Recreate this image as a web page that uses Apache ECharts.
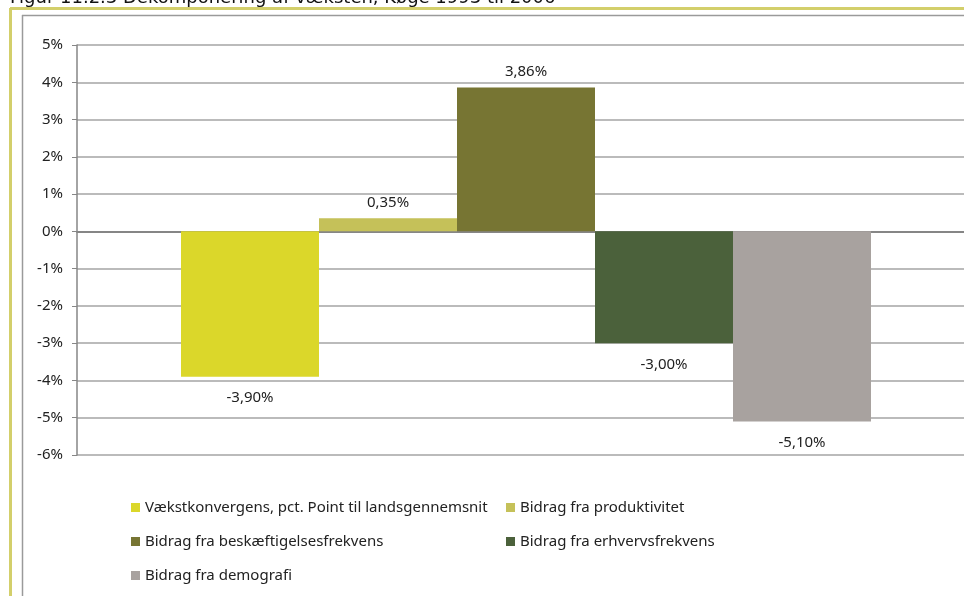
<!DOCTYPE html>
<html>
<head>
<meta charset="utf-8">
<script src="https://cdn.jsdelivr.net/npm/echarts@6/dist/echarts.min.js"></script>
<style>
  html, body { margin: 0; padding: 0; background: #ffffff; }
  #chart { width: 964px; height: 596px; }
</style>
</head>
<body>
<div id="chart"></div>
<script>
// Decomposition of growth, contributions in percent
const titleText = 'Figur 11.2.3 Dekomponering af væksten, Køge 1993 til 2006';
const categories = [''];
const seriesNames = [
  'Vækstkonvergens, pct. Point til landsgennemsnit',
  'Bidrag fra produktivitet',
  'Bidrag fra beskæftigelsesfrekvens',
  'Bidrag fra erhvervsfrekvens',
  'Bidrag fra demografi'
];
const seriesValues = [-3.90, 0.35, 3.86, -3.00, -5.10];
const seriesColors = ['#dbd72a', '#c5c159', '#777533', '#4b613b', '#a8a29f'];
const yTicks = { min: -6, max: 5, interval: 1 };

const FONT = '"Noto Sans", "Open Sans", sans-serif';
const FS = 15;

const fmt = v => v.toFixed(2).replace('.', ',') + '%';

const series = seriesNames.map((name, i) => ({
  name: name,
  type: 'bar',
  data: [seriesValues[i]],
  barGap: '0%',
  barWidth: 138,
  itemStyle: { color: seriesColors[i] },
  label: {
    show: true,
    position: seriesValues[i] >= 0 ? 'top' : 'bottom',
    distance: seriesValues[i] >= 0 ? 8 : 14,
    formatter: p => fmt(p.value),
    color: '#222',
    fontFamily: FONT,
    fontSize: FS
  }
}));

const chart = echarts.init(document.getElementById('chart'), null, { renderer: 'canvas' });
chart.setOption({
  animation: false,
  backgroundColor: '#ffffff',
  grid: {
    left: 77, top: 45, width: 898, height: 410,
    containLabel: false,
    outerBoundsMode: 'none'
  },
  xAxis: {
    type: 'category',
    data: categories,
    axisLine: { show: true, onZero: true, lineStyle: { color: '#868686', width: 2 } },
    axisTick: { show: false },
    axisLabel: { show: false },
    splitLine: { show: false }
  },
  yAxis: {
    type: 'value',
    min: yTicks.min,
    max: yTicks.max,
    interval: yTicks.interval,
    axisLine: { show: true, lineStyle: { color: '#868686', width: 1.5 } },
    axisTick: { show: true, length: 5, lineStyle: { color: '#868686' } },
    axisLabel: {
      margin: 14,
      formatter: v => v + '%',
      color: '#222',
      fontFamily: FONT,
      fontSize: FS
    },
    splitLine: { show: true, lineStyle: { color: '#a5a5a5', width: 1.5 } }
  },
  legend: [
    {
      data: [seriesNames[0], seriesNames[2], seriesNames[4]],
      orient: 'vertical',
      left: 126,
      top: 495,
      itemWidth: 9,
      itemHeight: 9,
      itemGap: 19,
      icon: 'rect',
      selectedMode: false,
      textStyle: { color: '#222', fontFamily: FONT, fontSize: FS }
    },
    {
      data: [seriesNames[1], seriesNames[3]],
      orient: 'vertical',
      left: 501,
      top: 495,
      itemWidth: 9,
      itemHeight: 9,
      itemGap: 19,
      icon: 'rect',
      selectedMode: false,
      textStyle: { color: '#222', fontFamily: FONT, fontSize: FS }
    }
  ],
  graphic: [
    {
      type: 'text',
      left: 10,
      top: -11,
      style: { text: titleText, fill: '#111', font: '18px "DejaVu Sans", sans-serif' },
      silent: true
    },
    {
      type: 'line',
      shape: { x1: 10, y1: 8.5, x2: 964, y2: 8.5 },
      style: { stroke: '#d3cf6b', lineWidth: 3 },
      silent: true
    },
    {
      type: 'line',
      shape: { x1: 10.5, y1: 8, x2: 10.5, y2: 596 },
      style: { stroke: '#d3cf6b', lineWidth: 3 },
      silent: true
    },
    {
      type: 'line',
      shape: { x1: 22, y1: 15.5, x2: 964, y2: 15.5 },
      style: { stroke: '#9a9a9a', lineWidth: 1.5 },
      silent: true
    },
    {
      type: 'line',
      shape: { x1: 22.5, y1: 15, x2: 22.5, y2: 596 },
      style: { stroke: '#9a9a9a', lineWidth: 1.5 },
      silent: true
    }
  ],
  series: series
});
</script>
</body>
</html>
